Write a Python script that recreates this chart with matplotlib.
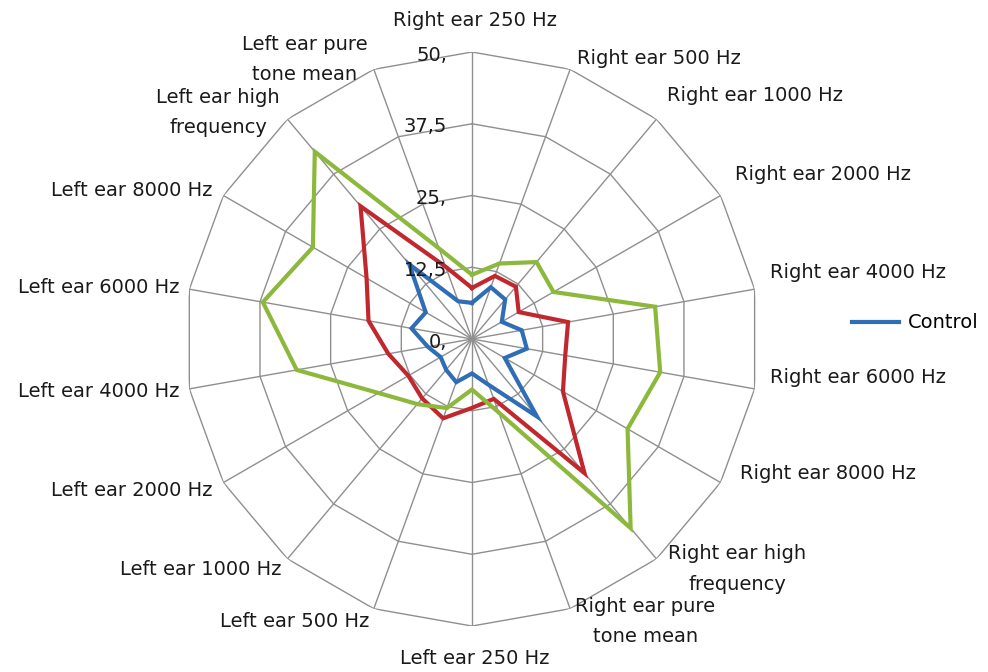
import numpy as np
import matplotlib
matplotlib.use("Agg")
import matplotlib.pyplot as plt

plt.rcParams['font.family'] = ['DejaVu Sans']

# categories, clockwise from the top
categories = ["Right ear 250 Hz", "Right ear 500 Hz", "Right ear 1000 Hz",
              "Right ear 2000 Hz", "Right ear 4000 Hz", "Right ear 6000 Hz",
              "Right ear 8000 Hz", "Right ear high\nfrequency",
              "Right ear pure\ntone mean", "Left ear 250 Hz", "Left ear 500 Hz",
              "Left ear 1000 Hz", "Left ear 2000 Hz", "Left ear 4000 Hz",
              "Left ear 6000 Hz", "Left ear 8000 Hz", "Left ear high\nfrequency",
              "Left ear pure\ntone mean"]

control = [6.3, 9.6, 9.0, 6.0, 8.8, 9.7, 6.6, 17.6, 8.5,
           6.0, 8.0, 7.0, 6.3, 7.8, 10.7, 9.3, 17.0, 7.0]
group_red = [8.9, 11.7, 11.9, 9.4, 17.0, 16.5, 18.3, 30.5, 11.1,
             12.0, 14.7, 13.5, 12.8, 14.8, 18.3, 21.2, 30.2, 13.4]
group_green = [11.2, 14.0, 17.5, 16.4, 32.4, 33.3, 31.3, 43.0, 13.6,
               8.8, 12.8, 14.8, 18.8, 31.0, 37.0, 32.0, 42.6, 16.8]

ring_values = [0, 12.5, 25, 37.5, 50]
ring_labels = ["0,", "12,5", "25,", "37,5", "50,"]

n = len(categories)
theta = np.linspace(0, 2 * np.pi, n, endpoint=False)
theta_c = np.append(theta, theta[0])

fig = plt.figure(figsize=(9.88, 6.72), dpi=100)
ax = fig.add_axes([0.1872, 0.0684, 0.581, 0.8542], projection='polar')
ax.set_theta_zero_location('N')
ax.set_theta_direction(-1)
ax.set_ylim(0, 50)
ax.grid(False)
ax.set_xticks([])
ax.set_yticks([])
ax.spines['polar'].set_visible(False)
ax.patch.set_alpha(0)

gcol = '#8f8f8f'
# polygon rings and spokes
for v in ring_values[1:]:
    ax.plot(theta_c, [v] * (n + 1), color=gcol, lw=1.0, zorder=1)
for t in theta:
    ax.plot([t, t], [0, 50], color=gcol, lw=1.0, zorder=1)

def closed(vals):
    return list(vals) + [vals[0]]

line_ctrl, = ax.plot(theta_c, closed(control), color='#2f6db5', lw=3.0,
                     solid_joinstyle='miter', zorder=5)
ax.plot(theta_c, closed(group_red), color='#c0282d', lw=3.0,
        solid_joinstyle='miter', zorder=3)
ax.plot(theta_c, closed(group_green), color='#8cb83c', lw=3.0,
        solid_joinstyle='miter', zorder=4)

tcol = '#1a1a1a'
fs = 14

# ring value labels
for v, s in zip(ring_values, ring_labels):
    ax.annotate(s, xy=(0, v), xytext=(-25 * 0.72, -3 * 0.72),
                textcoords='offset points', ha='right', va='center',
                fontsize=fs, color=tcol, zorder=6)

# category label offsets (pixels) from outer vertex
offs = [(3, -32, 'center'), (7, -11, 'left'), (10.5, -24, 'left'),
        (14.5, -21.5, 'left'), (15.4, -17, 'left'), (15.4, -11, 'left'),
        (19.5, -9.5, 'left'), (11.5, 10, 'left'), (5, 13, 'left'),
        (3, 32, 'center'), (-4, 13, 'right'), (-5.5, 11, 'right'),
        (-10.5, 7.5, 'right'), (-9.4, 3, 'right'), (-9.4, -2, 'right'),
        (-10.5, -5.5, 'right'), (-7.5, -7, 'right'), (-6, -10, 'right')]
for t, lab, (dx, dy, ha) in zip(theta, categories, offs):
    ax.annotate(lab, xy=(t, 50), xytext=(dx * 0.72, -dy * 0.72),
                textcoords='offset points', ha=ha, va='center',
                multialignment='center', linespacing=1.75,
                fontsize=fs, color=tcol, annotation_clip=False)

fig.legend(handles=[line_ctrl], labels=['Control'], loc='center left',
           bbox_to_anchor=(852 / 988, 1 - 323 / 672), frameon=False,
           handlelength=2.4, handletextpad=0.45, borderpad=0,
           borderaxespad=0, fontsize=fs)

fig.savefig('out.png', dpi=100, facecolor='white')
